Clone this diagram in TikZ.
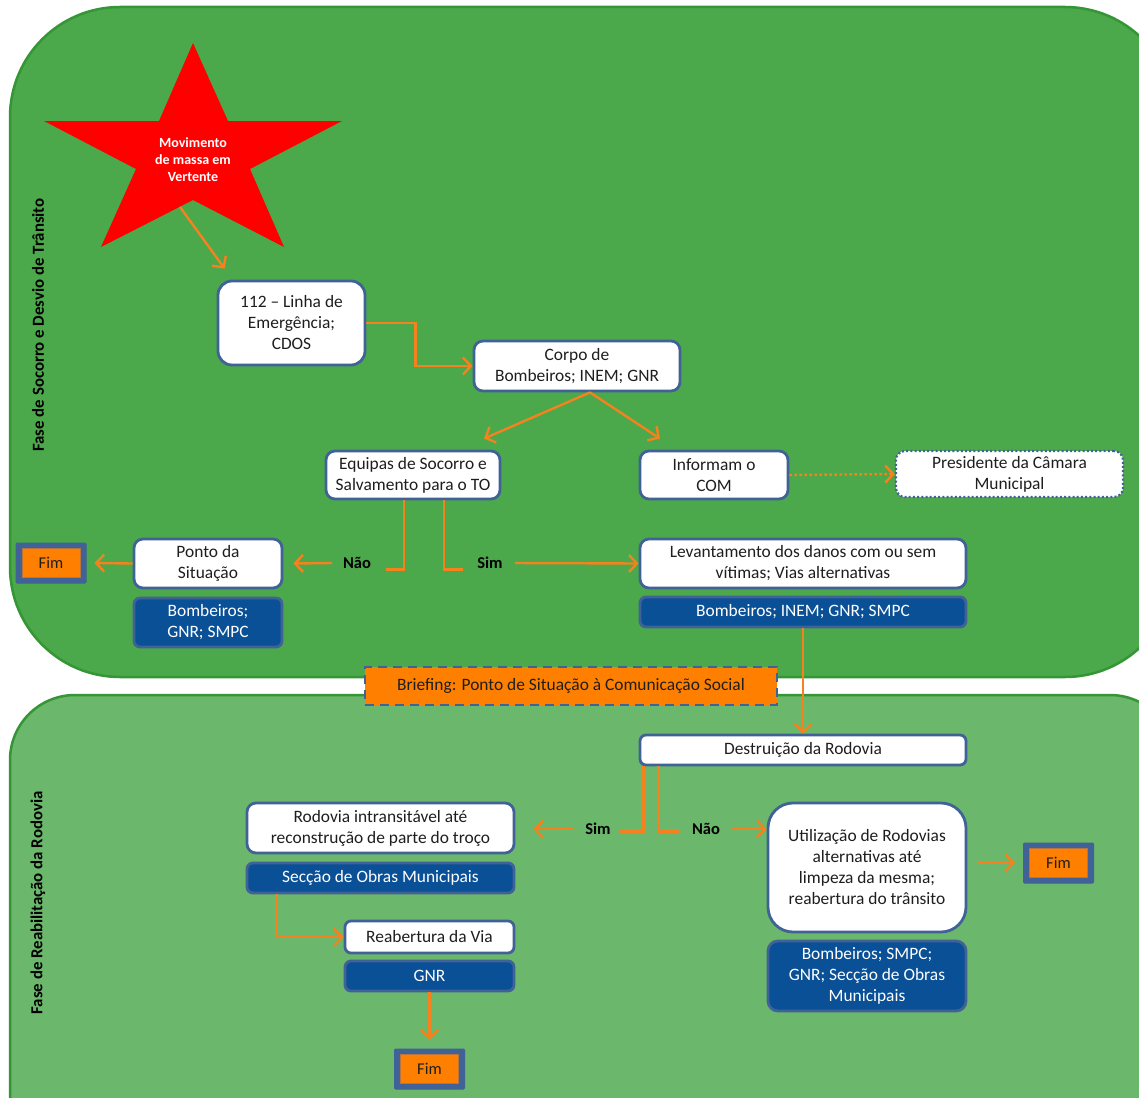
\documentclass[tikz,border=0pt]{standalone}
\usepackage{fontspec}
\setmainfont{Carlito}
\usetikzlibrary{arrows.meta,calc}
\definecolor{topgreen}{RGB}{75,168,75}
\definecolor{botgreen}{RGB}{107,183,107}
\definecolor{edgegreen}{RGB}{52,150,52}
\definecolor{boxedge}{RGB}{64,98,150}
\definecolor{boxblue}{RGB}{10,80,150}
\definecolor{arrorange}{RGB}{245,130,30}
\definecolor{fillorange}{RGB}{255,128,0}
\definecolor{fimline}{RGB}{185,115,60}
\definecolor{textdark}{RGB}{30,30,30}
\tikzset{
  wbox/.style={draw=boxedge, fill=white, line width=2.8pt, rounded corners=9pt,
    align=center, inner sep=0pt, text=textdark,
    font=\fontsize{17.4}{21}\selectfont},
  bbox/.style={draw=boxedge, fill=boxblue, line width=2.8pt, rounded corners=6pt,
    align=center, inner sep=0pt, text=white,
    font=\fontsize{17.4}{21}\selectfont},
  fimout/.style={draw=boxedge, fill=boxedge, line width=1pt, rounded corners=1pt,
    minimum width=70pt, minimum height=40pt, inner sep=0pt},
  fimin/.style={draw=fimline, fill=fillorange, line width=1pt,
    minimum width=58pt, minimum height=29pt, inner sep=0pt, text=textdark,
    font=\fontsize{16.5}{19}\selectfont},
  conn/.style={draw=arrorange, line width=2.4pt},
  arr/.style={conn, -{Straight Barb[length=8pt,width=17pt]}},
  yesno/.style={font=\bfseries\fontsize{16.5}{19}\selectfont, text=black, inner sep=0pt},
  phase/.style={font=\bfseries\fontsize{16.8}{19}\selectfont, text=black, rotate=90, inner sep=0pt}
}
\begin{document}
\begin{tikzpicture}[x=1pt,y=-1pt]
\useasboundingbox (0,0) rectangle (1139,1097);
\fill[white] (0,0) rectangle (1139,1097);
% panels
\draw[fill=topgreen, draw=edgegreen, line width=2.5pt, rounded corners=110pt]
  (10,7) rectangle (1175,677);
\draw[fill=botgreen, draw=edgegreen, line width=2.5pt, rounded corners=65pt]
  (10,695) rectangle (1175,1160);
\node[phase] (phaseA) at (38,325) {Fase de Socorro e Desvio de Trânsito};
\node[phase] (phaseB) at (38,903) {Fase de Reabilitação da Rodovia};
% star
\fill[red] (193,43) -- (228,121) -- (342,121) -- (250,169) -- (284,247)
  -- (193,200) -- (101,247) -- (136,169) -- (44,121) -- (159,121) -- cycle;
\node[font=\bfseries\fontsize{14}{17}\selectfont, text=white, align=center, inner sep=0pt]
  (star) at (193,160) {Movimento\\de massa em\\Vertente};
\coordinate (starout) at (180,207);
% boxes
\node[wbox, rounded corners=14pt, minimum width=147pt, minimum height=84pt] (b112) at (291.5,323) {112 – Linha de\\Emergência;\\CDOS};
\node[wbox, minimum width=206pt, minimum height=50pt] (corpo) at (577,366) {Corpo de\\Bombeiros; INEM; GNR};
\node[wbox, minimum width=174pt, minimum height=48pt] (equipas) at (413,475) {Equipas de Socorro e\\Salvamento para o TO};
\node[wbox, minimum width=148pt, minimum height=48pt] (informam) at (714,475) {Informam o\\COM};
\node[wbox, draw=boxedge, dash pattern=on 2pt off 2.2pt, line width=2.2pt, minimum width=227pt, minimum height=46pt] (pres) at (1009.5,474) {Presidente da Câmara\\Municipal};
\node[wbox, minimum width=148pt, minimum height=49pt] (ponto) at (208,563.5) {Ponto da\\Situação};
\node[bbox, minimum width=148pt, minimum height=49pt] (pontoblue) at (208,622.5) {Bombeiros;\\GNR; SMPC};
\node[wbox, minimum width=326pt, minimum height=49pt] (lev) at (803,563.5) {Levantamento dos danos com ou sem\\vítimas; Vias alternativas};
\node[bbox, minimum width=326pt, minimum height=30pt] (levblue) at (803,612) {Bombeiros; INEM; GNR; SMPC};
\node[fimout] (fimA) at (51,563) {};
\node[fimin] (fimAin) at (51,563) {Fim};
\node[draw=boxedge, fill=fillorange, line width=2.8pt, dash pattern=on 9pt off 6pt,
  minimum width=412pt, minimum height=38pt, inner sep=0pt, text=textdark,
  font=\fontsize{17.4}{21}\selectfont] (brief) at (571,686) {Briefing: Ponto de Situação à Comunicação Social};
\node[wbox, rounded corners=6pt, minimum width=326pt, minimum height=30pt] (destr) at (803,750) {Destruição da Rodovia};
\node[wbox, minimum width=267pt, minimum height=50pt] (rodo) at (380.5,828) {Rodovia intransitável até\\reconstrução de parte do troço};
\node[bbox, minimum width=267pt, minimum height=30pt] (seccao) at (380.5,878) {Secção de Obras Municipais};
\node[wbox, rounded corners=6pt, minimum width=169pt, minimum height=32pt] (reab) at (429.5,937) {Reabertura da Via};
\node[bbox, minimum width=169pt, minimum height=30pt] (gnr) at (429.5,976) {GNR};
\node[fimout] (fimC) at (429.5,1069) {};
\node[fimin] (fimCin) at (429.5,1069) {Fim};
\node[wbox, rounded corners=25pt, minimum width=198pt, minimum height=129pt] (util) at (867,867.5) {Utilização de Rodovias\\alternativas até\\limpeza da mesma;\\reabertura do trânsito};
\node[bbox, rounded corners=10pt, minimum width=198pt, minimum height=70pt] (utilblue) at (867,976) {Bombeiros; SMPC;\\GNR; Secção de Obras\\Municipais};
\node[fimout] (fimB) at (1058.5,863) {};
\node[fimin] (fimBin) at (1058.5,863) {Fim};
% labels
\node[yesno] (naoA) at (357,563) {Não};
\node[yesno] (simA) at (490,563) {Sim};
\node[yesno] (simB) at (598,829) {Sim};
\node[yesno] (naoB) at (706,829) {Não};
% connectors
\draw[arr] (starout) -- ([shift={(8,-11)}]b112.north west);
\draw[arr] (b112.east) -- ++(49,0) |- (corpo.west);
\draw[arr] ([xshift=13pt]corpo.south) -- ([shift={(71,-11)}]equipas.north);
\draw[arr] ([xshift=13pt]corpo.south) -- ([shift={(-54,-11)}]informam.north);
\draw[conn] ([xshift=-9pt]equipas.south) -- ++(0,69) -- ++(-18,0);
\draw[arr] ([xshift=-11pt]naoA.west) -- ([xshift=10pt]ponto.east);
\draw[conn] ([xshift=31pt]equipas.south) -- ++(0,69) -- ++(19,0);
\draw[arr] ([xshift=12pt]simA.east) -- (lev.west);
\draw[arr] (ponto.west) -- ([xshift=8pt]fimA.east);
\draw[arr, dash pattern=on 2.5pt off 2.5pt] (informam.east) -- (pres.west);
\draw[arr] (levblue.south) -- (destr.north);
\draw[conn] ([xshift=5pt]destr.south west) -- ++(0,65) -- ++(-24,0);
\draw[arr] ([xshift=-12pt]simB.west) -- ($(simB -| rodo.east)+(18,0)$);
\draw[conn] ([xshift=20pt]destr.south west) -- ++(0,65) -- ++(20,0);
\draw[arr] ([xshift=12pt]naoB.east) -- (naoB -| util.west);
\draw[arr] ($(util.east |- fimB.west)+(10,0)$) -- ([xshift=-8pt]fimB.west);
\draw[arr] ([xshift=-103.5pt]seccao.south) |- (reab.west);
\draw[arr] (gnr.south) -- ([yshift=9pt]fimC.north);
\end{tikzpicture}
\end{document}
